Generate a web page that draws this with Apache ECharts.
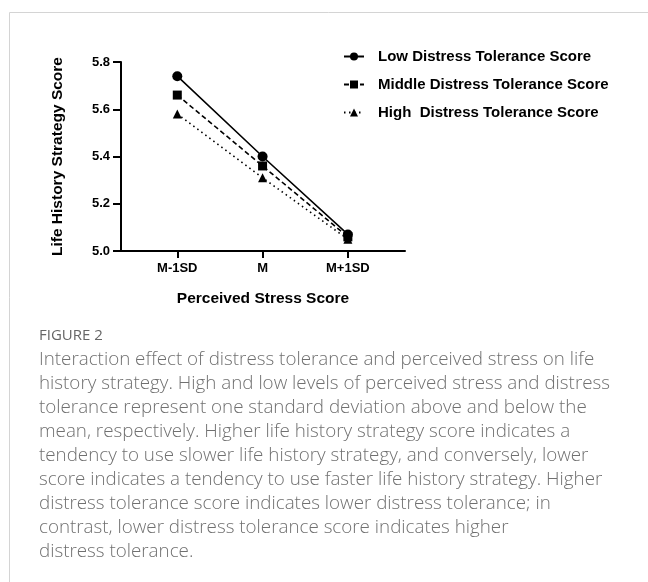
<!DOCTYPE html>
<html>
<head>
<meta charset="utf-8">
<script src="https://cdn.jsdelivr.net/npm/echarts@6/dist/echarts.min.js"></script>
<style>
html,body{margin:0;padding:0;background:#fff;}
#chart{width:648px;height:582px;}
</style>
</head>
<body>
<div id="chart"></div>
<script>
var categories = ['M-1SD', 'M', 'M+1SD'];
var seriesNames = ['Low Distress Tolerance Score', 'Middle Distress Tolerance Score', 'High  Distress Tolerance Score'];
var lowValues = [5.74, 5.40, 5.07];
var middleValues = [5.66, 5.36, 5.06];
var highValues = [5.58, 5.31, 5.05];
var yTicks = [5.0, 5.2, 5.4, 5.6, 5.8];
var xTitle = 'Perceived Stress Score';
var yTitle = 'Life History Strategy Score';
var figureLabel = 'FIGURE 2';
var captionLines = [
  'Interaction effect of distress tolerance and perceived stress on life',
  'history strategy. High and low levels of perceived stress and distress',
  'tolerance represent one standard deviation above and below the',
  'mean, respectively. Higher life history strategy score indicates a',
  'tendency to use slower life history strategy, and conversely, lower',
  'score indicates a tendency to use faster life history strategy. Higher',
  'distress tolerance score indicates lower distress tolerance; in',
  'contrast, lower distress tolerance score indicates higher',
  'distress tolerance.'
];

var chart = echarts.init(document.getElementById('chart'), null, {renderer: 'canvas'});
var font = '"Liberation Sans", Arial, sans-serif';
var capFont = '"Open Sans", Lato, sans-serif';

function toPairs(vals) { return vals.map(function (v, i) { return [i, v]; }); }

var catIdx = categories.map(function (c, i) { return i; });

var graphics = [
  {type: 'line', shape: {x1: 9.5, y1: 12.5, x2: 648, y2: 12.5}, style: {stroke: '#d4d4d4', lineWidth: 1}, silent: true},
  {type: 'line', shape: {x1: 9.5, y1: 12.5, x2: 9.5, y2: 582}, style: {stroke: '#d4d4d4', lineWidth: 1}, silent: true},
  {type: 'text', left: 39, top: 328, style: {text: figureLabel, font: '500 15px ' + capFont, fill: '#666'}, silent: true},
  {type: 'text', left: 39, top: 348, style: {text: captionLines.join('\n'), font: '300 18.8px ' + capFont, lineHeight: 24, fill: '#707070'}, silent: true}
];

var common = {
  type: 'line',
  itemStyle: {color: '#000'},
  emphasis: {disabled: true},
  animation: false
};

chart.setOption({
  animation: false,
  backgroundColor: '#fff',
  textStyle: {fontFamily: font},
  graphic: graphics,
  grid: {left: 121, top: 62, width: 284, height: 189, containLabel: false},
  legend: {
    orient: 'vertical',
    left: 338,
    top: 44,
    itemWidth: 20,
    itemHeight: 10,
    itemGap: 13,
    textStyle: {fontFamily: font, fontWeight: 'bold', fontSize: 15, color: '#000', padding: [0, 0, 0, 9]},
    data: seriesNames
  },
  xAxis: {
    type: 'value',
    min: -0.66,
    max: 2.67,
    name: xTitle,
    nameLocation: 'middle',
    nameGap: 40,
    nameTextStyle: {fontFamily: font, fontWeight: 'bold', fontSize: 15.5, color: '#000'},
    axisLine: {show: true, onZero: false, lineStyle: {color: '#000', width: 2}},
    axisTick: {show: true, length: 7, lineStyle: {color: '#000', width: 2}, customValues: catIdx},
    axisLabel: {
      show: true, margin: 11, customValues: catIdx,
      fontFamily: font, fontWeight: 'bold', fontSize: 13, color: '#000',
      formatter: function (v) { return categories[Math.round(v)]; }
    },
    splitLine: {show: false}
  },
  yAxis: {
    type: 'value',
    min: 5.0,
    max: 5.8,
    interval: 0.2,
    name: yTitle,
    nameLocation: 'middle',
    nameGap: 55,
    nameTextStyle: {fontFamily: font, fontWeight: 'bold', fontSize: 15.5, color: '#000'},
    axisLine: {show: true, onZero: false, lineStyle: {color: '#000', width: 2}},
    axisTick: {show: true, length: 8, lineStyle: {color: '#000', width: 2}},
    axisLabel: {
      margin: 11, fontFamily: font, fontWeight: 'bold', fontSize: 13, color: '#000',
      formatter: function (v) { return v.toFixed(1); }
    },
    splitLine: {show: false}
  },
  series: [
    Object.assign({}, common, {
      name: seriesNames[0], symbol: 'circle', symbolSize: 10,
      lineStyle: {color: '#000', width: 1.6, type: 'solid'},
      data: toPairs(lowValues), z: 3
    }),
    Object.assign({}, common, {
      name: seriesNames[1], symbol: 'rect', symbolSize: 9,
      lineStyle: {color: '#000', width: 1.6, type: [5, 3]},
      data: toPairs(middleValues), z: 2
    }),
    Object.assign({}, common, {
      name: seriesNames[2], symbol: 'triangle', symbolSize: 9,
      lineStyle: {color: '#000', width: 1.6, type: [1.5, 3.5]},
      data: toPairs(highValues), z: 1
    })
  ]
});
</script>
</body>
</html>
